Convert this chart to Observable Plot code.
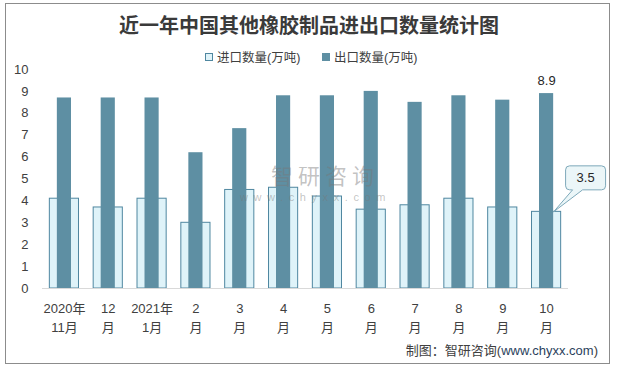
<!DOCTYPE html>
<html>
<head>
<meta charset="utf-8">
<script src="https://cdn.jsdelivr.net/npm/d3@7"></script>
<script src="https://cdn.jsdelivr.net/npm/@observablehq/plot@0.6"></script>
<style>
  html, body { margin: 0; padding: 0; background: #fff; }
  #wrap { position: relative; width: 618px; height: 370px; overflow: hidden;
          font-family: "Liberation Sans", "Noto Sans CJK SC", sans-serif; color: #404040; }
  #frame { position: absolute; left: 5px; top: 3px; width: 605px; height: 361px; border: 1px solid #8c8c8c; box-sizing: border-box; }
  #title { position: absolute; left: 0; top: 12px; width: 618px; text-align: center; font-size: 20px; line-height: 26px;
           font-family: "Noto Sans CJK SC", sans-serif; font-weight: 700; color: #3a3a3a; }
  #legend { position: absolute; top: 49px; left: 205px; font-size: 12.5px; line-height: 18px; white-space: nowrap; }
  #legend .item { position: absolute; top: 0; white-space: nowrap; }
  #legend .sw { display: inline-block; width: 6px; height: 6px; margin-right: 4px; vertical-align: 1px; }
  #caption { position: absolute; right: 20px; top: 341px; font-size: 13px; line-height: 20px; color: #404040; white-space: nowrap; }
  #caption .url { color: #2b3f5c; }
  #wm1 { position: absolute; left: 271px; top: 162px; font-size: 22px; line-height: 24px; letter-spacing: 5px; color: rgba(120,120,120,0.45);
         font-family: "Noto Sans CJK SC", sans-serif; white-space: nowrap; }
  #wm2 { position: absolute; left: 240px; top: 191px; font-size: 11px; line-height: 12px; letter-spacing: 5.6px; color: rgba(120,120,120,0.45); white-space: nowrap; }
  #chart { position: absolute; left: 0; top: 0; }
</style>
</head>
<body>
<div id="wrap">
  <div id="frame"></div>
  <div id="chart"></div>
  <div id="wm1">智研咨询</div>
  <div id="wm2">www.chyxx.com</div>
  <div id="title">近一年中国其他橡胶制品进出口数量统计图</div>
  <div id="legend">
    <span class="item" style="left:0px"><span class="sw" style="background:#dff3f9;border:1px solid #4f87a0;"></span>进口数量(万吨)</span>
    <span class="item" style="left:117px"><span class="sw" style="background:#5e8fa3;border:1px solid #5e8fa3;"></span>出口数量(万吨)</span>
  </div>
  <div id="caption">制图：智研咨询(<span class="url">www.chyxx.com</span>)</div>
</div>
<script>
const categories = ["2020年\n11月","12\n月","2021年\n1月","2\n月","3\n月","4\n月","5\n月","6\n月","7\n月","8\n月","9\n月","10\n月"];
const importValues = [4.1, 3.7, 4.1, 3.0, 4.5, 4.6, 4.2, 3.6, 3.8, 4.1, 3.7, 3.5];
const exportValues = [8.7, 8.7, 8.7, 6.2, 7.3, 8.8, 8.8, 9.0, 8.5, 8.8, 8.6, 8.9];
const yTicks = [0,1,2,3,4,5,6,7,8,9,10];

const data = categories.map((c, i) => ({cat: c, imp: importValues[i], exp: exportValues[i]}));
const last = [data[data.length - 1]];

// callout shape: tip at (0,0), rounded box above-right
const callout = {
  draw(ctx) {
    const L = 12, R = 52, T = -46, B = -22, r = 4;
    ctx.moveTo(0, 0);
    ctx.lineTo(19, B);
    ctx.lineTo(L + r, B);
    ctx.arcTo(L, B, L, B - r, r);
    ctx.lineTo(L, T + r);
    ctx.arcTo(L, T, L + r, T, r);
    ctx.lineTo(R - r, T);
    ctx.arcTo(R, T, R, T + r, r);
    ctx.lineTo(R, B - r);
    ctx.arcTo(R, B, R - r, B, r);
    ctx.lineTo(29, B);
    ctx.closePath();
  }
};

const chart = Plot.plot({
  width: 618,
  height: 370,
  marginTop: 69,
  marginBottom: 82,
  marginLeft: 42,
  marginRight: 50,
  style: {fontFamily: '"Liberation Sans", "Noto Sans CJK SC", sans-serif', fontSize: "13px", color: "#404040", background: "transparent"},
  x: {domain: categories, paddingInner: 0.335, paddingOuter: 0.1675, round: false, label: null},
  y: {domain: [0, 10], label: null},
  marks: [
    Plot.axisY({ticks: yTicks, tickSize: 0, tickPadding: 14, fontSize: 13, label: null}),
    Plot.axisX({tickSize: 0, tickPadding: 11, fontSize: 13, lineHeight: 1.45, label: null}),
    Plot.barY(data, {x: "cat", y: "imp", fill: "#dff3f9", stroke: "#4f87a0", strokeWidth: 1}),
    Plot.barY(data, {x: "cat", y: "exp", fill: "#5e8fa3", insetLeft: 7.5, insetRight: 7.5}),
    Plot.ruleY([0], {stroke: "#d9d9d9", strokeWidth: 1.2}),
    Plot.text(last, {x: "cat", y: "exp", text: d => d.exp.toFixed(1), dy: -13, fontSize: 13, fill: "#262626"}),
    Plot.dot(last, {x: "cat", y: "imp", dx: 7, symbol: callout, fill: "#ebf6f8", stroke: "#7ea9ba", strokeWidth: 1}),
    Plot.text(last, {x: "cat", y: "imp", text: d => d.imp.toFixed(1), dx: 39, dy: -34, fontSize: 13, fill: "#262626"})
  ]
});
document.getElementById("chart").appendChild(chart);
</script>
</body>
</html>
